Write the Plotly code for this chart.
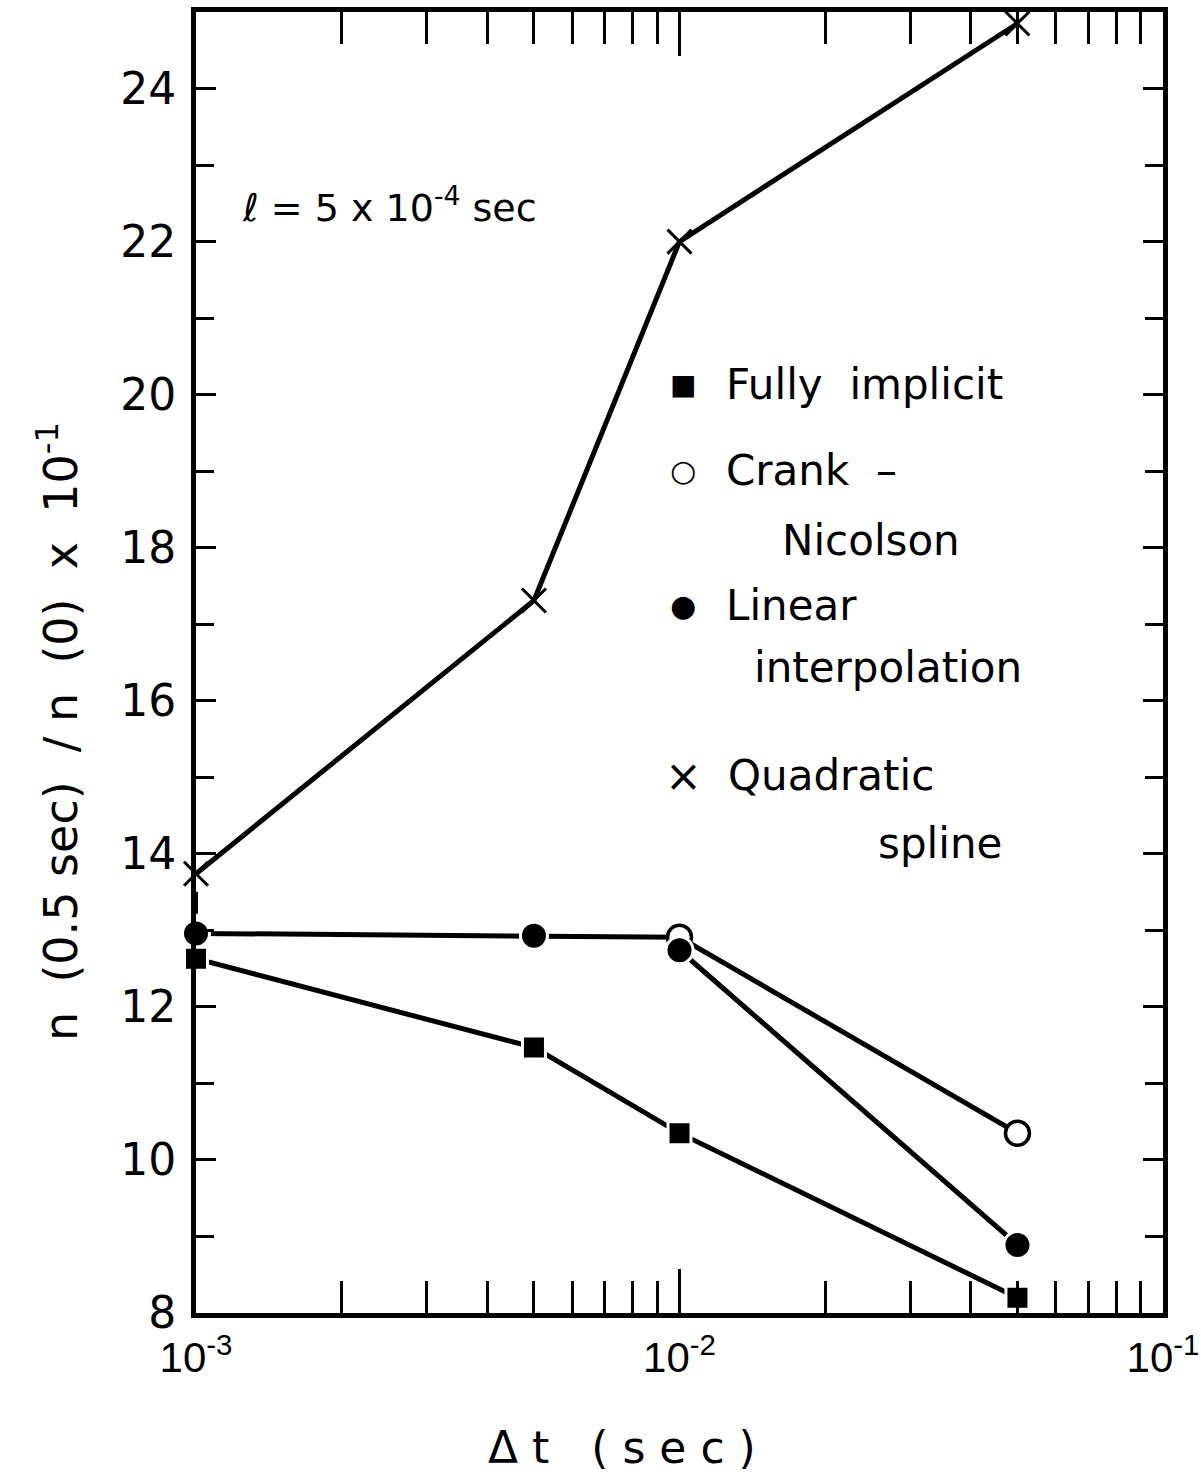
import plotly.graph_objects as go
import numpy as np

dt = [1e-3, 5e-3, 1e-2, 5e-2]
fully_implicit = [12.63, 11.47, 10.35, 8.2]
crank_nicolson = [12.96, 12.93, 12.91, 10.35]
linear_interp = [12.96, 12.93, 12.74, 8.89]
quadratic_spline = [13.74, 17.31, 22.0, 24.85]

x_major = [1e-3, 1e-2, 1e-1]
x_major_text = ["10<sup>-3</sup>", "10<sup>-2</sup>", "10<sup>-1</sup>"]
x_minor = [m * d for d in [1e-3, 1e-2] for m in range(2, 10)]
y_major = [8, 10, 12, 14, 16, 18, 20, 22, 24]
y_minor = [9, 11, 13, 15, 17, 19, 21, 23, 25]

FONT = "DejaVu Sans"
BLACK = "black"

fig = go.Figure()

# dashed connector at the first time step
fig.add_trace(go.Scatter(
    x=[dt[0], dt[0]], y=[quadratic_spline[0], linear_interp[0]],
    mode="lines", line=dict(color=BLACK, width=4, dash="0px,18px,22px,200px"),
    showlegend=False, cliponaxis=False))

# Fully implicit
fig.add_trace(go.Scatter(
    x=dt, y=fully_implicit, mode="lines+markers",
    line=dict(color=BLACK, width=5),
    marker=dict(symbol="square", size=23, color=BLACK, line=dict(color="white", width=3)),
    showlegend=False, cliponaxis=False))

# Crank-Nicolson
fig.add_trace(go.Scatter(
    x=dt, y=crank_nicolson, mode="lines+markers",
    line=dict(color=BLACK, width=5),
    marker=dict(symbol="circle", size=24, color="white", line=dict(color=BLACK, width=3.5)),
    showlegend=False, cliponaxis=False))

# Linear interpolation: line from the 10^-2 point onward, markers everywhere
fig.add_trace(go.Scatter(
    x=dt[2:], y=linear_interp[2:], mode="lines",
    line=dict(color=BLACK, width=5), showlegend=False, cliponaxis=False))
fig.add_trace(go.Scatter(
    x=dt, y=linear_interp, mode="markers",
    marker=dict(symbol="circle", size=27, color=BLACK, line=dict(color="white", width=3)),
    showlegend=False, cliponaxis=False))

# Quadratic spline
fig.add_trace(go.Scatter(
    x=dt, y=quadratic_spline, mode="lines",
    line=dict(color=BLACK, width=5), showlegend=False, cliponaxis=False))
fig.add_trace(go.Scatter(
    x=dt, y=quadratic_spline, mode="markers",
    marker=dict(symbol="x-thin", size=24, color=BLACK, line=dict(color=BLACK, width=3)),
    showlegend=False, cliponaxis=False))

# geometry helpers (paper coords)
L, R, T, B = 196, 1163, 12, 1313
def px(x):
    return (x - L) / (R - L)
def py(y):
    return (B - y) / (B - T)

ann = []
def text(t, x, y, size=42, xanchor="left"):
    ann.append(dict(text=t, x=px(x), y=py(y), xref="paper", yref="paper",
                    xanchor=xanchor, yanchor="middle", showarrow=False,
                    font=dict(family=FONT, size=size, color=BLACK)))

text("ℓ = 5 x 10<sup>-4</sup> sec", 240, 205, size=38)

text("■", 683, 385, size=28, xanchor="center")
text("○", 683, 470, size=30, xanchor="center")
text("●", 683, 605, size=30, xanchor="center")
text("×", 683, 775, size=44, xanchor="center")

text("Fully  implicit", 724, 385)
text("Crank  –", 724, 470)
text("Nicolson", 780, 540)
text("Linear", 724, 605)
text("interpolation", 752, 667)
text("Quadratic", 726, 775)
text("spline", 876, 843)

# axis titles
ann.append(dict(text="Δ t   ( s e c )", x=px(622), y=py(1447), xref="paper", yref="paper",
                xanchor="center", yanchor="middle", showarrow=False,
                font=dict(family=FONT, size=44, color=BLACK)))
ann.append(dict(text="n  (0.5 sec)  / n  (0)  x  10<sup>-1</sup>", x=px(58), y=py(732),
                xref="paper", yref="paper", xanchor="center", yanchor="middle",
                textangle=-90, showarrow=False,
                font=dict(family=FONT, size=46, color=BLACK)))

fig.update_layout(
    width=1201, height=1474,
    margin=dict(l=L, r=1201 - R, t=T, b=1474 - B, autoexpand=False),
    plot_bgcolor="white", paper_bgcolor="white",
    annotations=ann,
    font=dict(family=FONT, color=BLACK),
    xaxis=dict(
        type="log", range=[-3, -1], showgrid=False, zeroline=False,
        automargin=False,
        showline=True, linecolor=BLACK, linewidth=5, mirror="ticks",
        ticks="inside", ticklen=44, tickwidth=3, tickcolor=BLACK,
        tickmode="array", tickvals=x_major, ticktext=x_major_text,
        tickfont=dict(family="Liberation Sans", size=42, color=BLACK),
        ticklabeloverflow="allow", ticklabelstandoff=4,
        minor=dict(ticks="inside", ticklen=32, tickwidth=3, tickcolor=BLACK,
                   tickmode="array", tickvals=x_minor, showgrid=False),
    ),
    yaxis=dict(
        range=[8, 25], showgrid=False, zeroline=False,
        automargin=False,
        showline=True, linecolor=BLACK, linewidth=5, mirror="ticks",
        ticks="inside", ticklen=20, tickwidth=3, tickcolor=BLACK,
        tickmode="array", tickvals=y_major, ticktext=[str(v) for v in y_major],
        tickfont=dict(family=FONT, size=44, color=BLACK),
        ticklabelstandoff=6,
        minor=dict(ticks="inside", ticklen=18, tickwidth=3, tickcolor=BLACK,
                   tickmode="array", tickvals=y_minor, showgrid=False),
    ),
)

fig.write_html("out.html")
